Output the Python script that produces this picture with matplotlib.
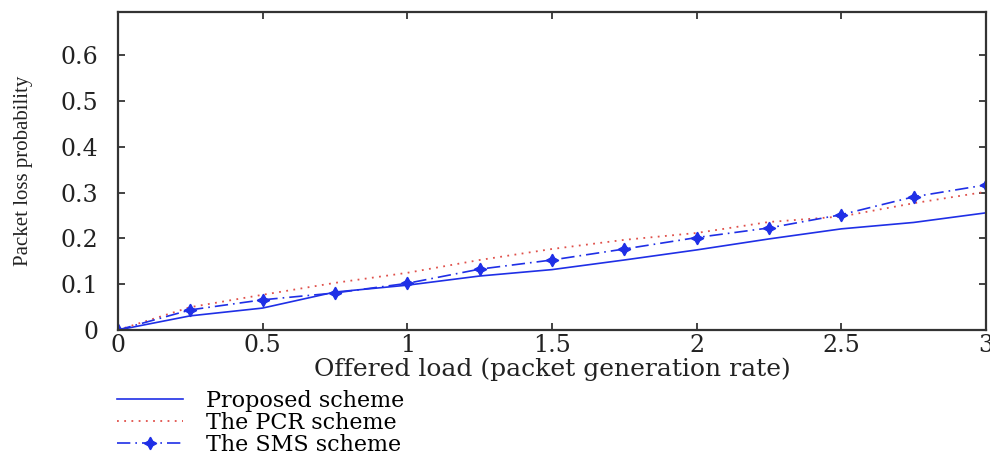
import matplotlib

matplotlib.use("Agg")
import matplotlib.pyplot as plt

# offered load (packet generation rate)
load = [0, 0.25, 0.5, 0.75, 1.0, 1.25, 1.5, 1.75, 2.0, 2.25, 2.5, 2.75, 3.0]
proposed = [0, 0.031, 0.048, 0.083, 0.098, 0.118, 0.132, 0.153, 0.175, 0.199, 0.221, 0.235, 0.256]
pcr = [0, 0.050, 0.077, 0.103, 0.125, 0.153, 0.177, 0.197, 0.212, 0.236, 0.248, 0.277, 0.302]
sms = [0, 0.044, 0.066, 0.081, 0.102, 0.133, 0.153, 0.177, 0.202, 0.223, 0.252, 0.291, 0.317]
y_ticks = [0, 0.1, 0.2, 0.3, 0.4, 0.5, 0.6]
x_ticks = [0, 0.5, 1, 1.5, 2, 2.5, 3]

fig = plt.figure(figsize=(9.9, 4.54), dpi=100)
ax = fig.add_axes([0.119, 0.273, 0.877, 0.701])

ax.plot(load, proposed, color="#1f2fe6", linewidth=1.2, label="Proposed scheme")
ax.plot(load, pcr, color="#e0504a", linewidth=1.3, linestyle=(0, (1, 3)), label="The PCR scheme")
ax.plot(load, sms, color="#1f2fe6", linewidth=1.2, linestyle=(0, (8, 3, 1, 3)),
        marker=(4, 1, 0), markersize=9, label="The SMS scheme")

ax.set_xlim(0, 3)
ax.set_ylim(0, 0.695)
ax.set_xticks(x_ticks)
ax.set_xticklabels(["0", "0.5", "1", "1.5", "2", "2.5", "3"])
ax.set_yticks(y_ticks)
ax.set_yticklabels(["0", "0.1", "0.2", "0.3", "0.4", "0.5", "0.6"])
ax.tick_params(direction="in", length=5, width=1.2, top=True, right=True,
               labelsize=17, colors="#222222")
ax.tick_params(axis="x", pad=3)
ax.tick_params(axis="y", pad=14)
for lbl in ax.get_xticklabels() + ax.get_yticklabels():
    lbl.set_family("DejaVu Serif")
for s in ax.spines.values():
    s.set_linewidth(1.6)
    s.set_color("#333333")

ax.set_xlabel("Offered load (packet generation rate)", family="DejaVu Serif",
              fontsize=18, labelpad=0, color="#222222")
ax.set_ylabel("Packet loss probability", family="Liberation Serif",
              fontsize=15, labelpad=20, color="#222222")

fig.legend(loc="upper left", bbox_to_anchor=(0.118, 0.142), frameon=False,
           prop={"family": "DejaVu Serif", "size": 16}, handlelength=3.0,
           labelspacing=0.0, borderaxespad=0, borderpad=0, handletextpad=1.0)

plt.savefig("out.png", dpi=100)
plt.close()
